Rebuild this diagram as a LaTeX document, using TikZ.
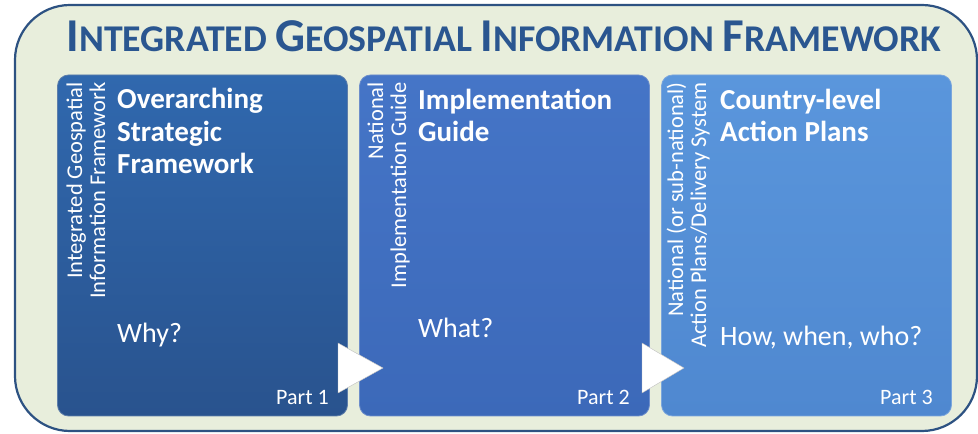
\documentclass[tikz,border=0pt]{standalone}
\usepackage{fontspec}
\setmainfont{Carlito}
\usetikzlibrary{calc}
\definecolor{panelfill}{HTML}{E8EEDC}
\definecolor{panelline}{HTML}{2D5282}
\definecolor{titleblue}{HTML}{2A5690}
\definecolor{boneT}{HTML}{3068AE}
\definecolor{boneB}{HTML}{29538E}
\definecolor{btwoT}{HTML}{4575C7}
\definecolor{btwoB}{HTML}{3C69B9}
\definecolor{bthreeT}{HTML}{5A96DC}
\definecolor{bthreeB}{HTML}{4F88D0}
\tikzset{
  panel/.style={fill=panelfill, draw=panelline, line width=2.2pt, rounded corners=55pt},
  partbox/.style={rounded corners=11pt, minimum width=290pt, minimum height=341pt, inner sep=0pt, draw=white!25!#1, line width=0.8pt},
  sidetext/.style={rotate=90, anchor=base east, align=right, inner sep=0pt, text=white, font=\fontsize{22.5}{23}\selectfont},
  headtext/.style={anchor=base west, align=left, inner sep=0pt, text=white, font=\fontsize{29}{32.5}\selectfont\bfseries},
  asktext/.style={anchor=base west, inner sep=0pt, text=white, font=\fontsize{28}{32}\selectfont},
  parttext/.style={anchor=base east, inner sep=0pt, text=white, font=\fontsize{22}{26}\selectfont},
  flowarrow/.style={fill=white, draw=black!25, line width=0.4pt},
  titletext/.style={anchor=base, inner sep=0pt, text=titleblue, font=\fontsize{37.8}{40}\selectfont\bfseries}
}
\newcommand{\tbig}[1]{{\fontsize{47.1}{50}\selectfont #1}}
\begin{document}
\begin{tikzpicture}[x=1pt,y=1pt]
\useasboundingbox (0,0) rectangle (978,434);
\draw[panel] (15,3) rectangle (977,429);
\node[titletext] (title) at (504,382) {\tbig{I}NTEGRATED \tbig{G}EOSPATIAL \tbig{I}NFORMATION \tbig{F}RAMEWORK};

\node[partbox=boneB, top color=boneT, bottom color=boneB] (b1) at (202.5,188.5) {};
\node[partbox=btwoB, top color=btwoT, bottom color=btwoB] (b2) at (504.5,188.5) {};
\node[partbox=bthreeB, top color=bthreeT, bottom color=bthreeB] (b3) at (806.5,188.5) {};

\draw[flowarrow] (338,91) -- (383,66) -- (338,41) -- cycle;
\draw[flowarrow] (642,91) -- (684,66) -- (642,41) -- cycle;

\node[sidetext] (s1) at (105,352) {Integrated Geospatial\\Information Framework};
\node[sidetext] (s2) at (406,352) {National\\Implementation Guide};
\node[sidetext] (s3) at (706,352) {National (or sub-national)\\Action Plans/Delivery System};

\node[headtext] (h1) at (117,260) {Overarching\\Strategic\\Framework};
\node[headtext] (h2) at (418,292) {Implementation\\Guide};
\node[headtext] (h3) at (720,292) {Country-level\\Action Plans};

\node[asktext] (q1) at (117,91) {Why?};
\node[asktext] (q2) at (418,96) {What?};
\node[asktext] (q3) at (720,88) {How, when, who?};

\node[parttext] (p1) at (329,29) {Part 1};
\node[parttext] (p2) at (630,29) {Part 2};
\node[parttext] (p3) at (933,29) {Part 3};
\end{tikzpicture}
\end{document}
